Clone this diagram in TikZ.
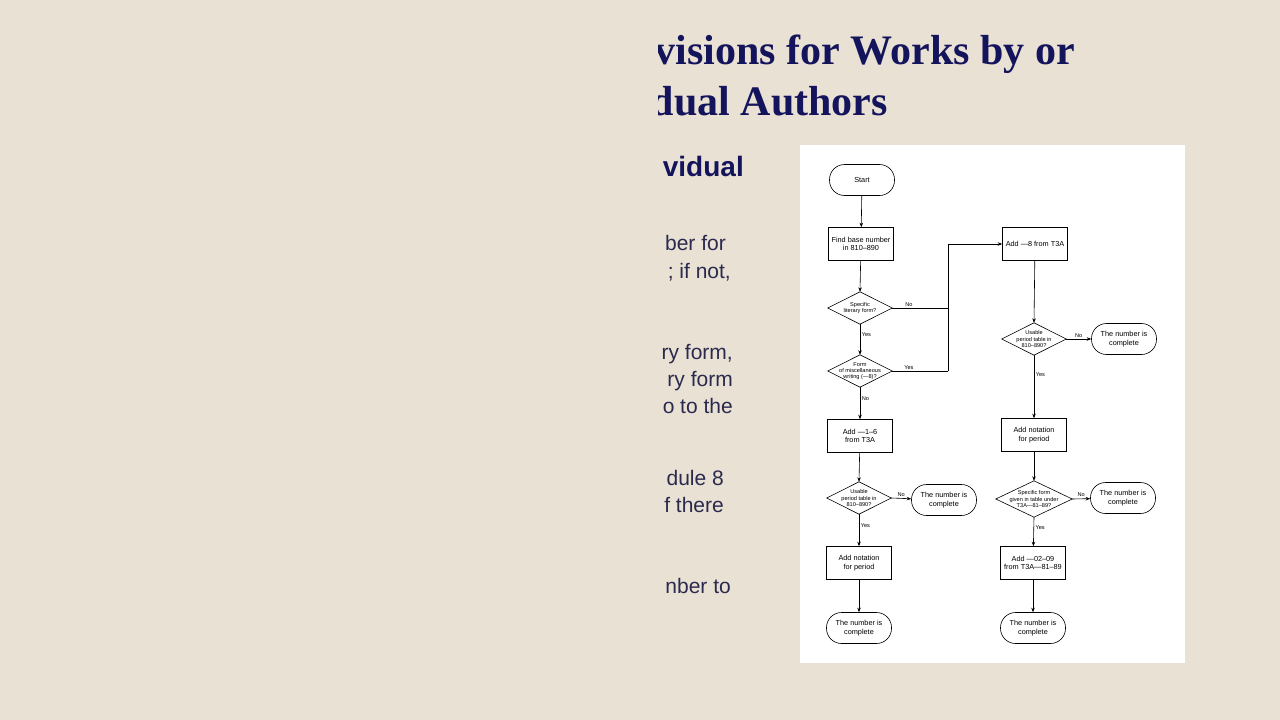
\documentclass[tikz,border=0pt]{standalone}
\usepackage{fontspec}
\setmainfont{Liberation Serif}
\setsansfont{Liberation Sans}
\usetikzlibrary{arrows.meta}
\definecolor{bg}{HTML}{E9E1D3}
\definecolor{navy}{HTML}{14145C}
\definecolor{bodyc}{HTML}{2A2A4E}
\tikzset{
  fc/.style={font=\sffamily\fontsize{7.3}{8.4}\selectfont, align=center, inner sep=0pt},
  boxn/.style={fc, draw, line width=0.6pt, minimum width=65pt, minimum height=33pt},
  term/.style={fc, draw, line width=0.6pt, rounded corners=15pt, minimum width=65pt, minimum height=31pt},
  dia/.style={fc, font=\sffamily\fontsize{5.6}{6.3}\selectfont, minimum width=64pt, minimum height=32pt},
  lab/.style={font=\sffamily\fontsize{5.6}{6.5}\selectfont, inner sep=1.5pt},
  ar/.style={line width=0.6pt, -{Stealth[length=4.5pt,width=3.5pt]}},
  ln/.style={line width=0.6pt},
  ttl/.style={font=\bfseries\fontsize{42}{48}\selectfont, text=navy, inner sep=0pt, anchor=base east},
  bdy/.style={font=\sffamily\fontsize{21}{25}\selectfont, text=bodyc, inner sep=0pt, anchor=base east}
}
\begin{document}
\begin{tikzpicture}[x=1pt,y=-1pt]
\fill[bg] (0,0) rectangle (1280,720);
\useasboundingbox (0,0) rectangle (1280,720);
\begin{scope}
\clip (658,0) rectangle (1280,140) -- (658,140) rectangle (800,720);
\node[ttl] (t1) at (1075,64) {ovisions for Works by or};
\node[ttl] (t2) at (888,115) {idual Authors};
\node[font=\sffamily\bfseries\fontsize{28}{30}\selectfont, text=navy, inner sep=0pt, anchor=base east] (t3) at (744,176) {vidual};
\node[bdy] (b1) at (726,250) {ber for};
\node[bdy] (b2) at (731,278) {; if not,};
\node[bdy] (b3) at (733,359) {ry form,};
\node[bdy] (b4) at (733,386) {ry form};
\node[bdy] (b5) at (733,413) {o to the};
\node[bdy] (b6) at (724,485) {dule 8};
\node[bdy] (b7) at (724,512) {f there};
\node[bdy] (b8) at (731,593) {nber to};
\end{scope}
\fill[white] (800,145) rectangle (1185,663);
% left column
\node[term] (st) at (862,180) {Start};
\node[boxn] (fb) at (861,244) {Find base number\\in 810--890};
\node[dia] (d1) at (860,308) {Specific\\literary form?};
\node[dia] (d2) at (860,371) {Form\\of miscellaneous\\writing (---8)?};
\node[boxn] (a16) at (860,436) {Add ---1--6\\from T3A};
\node[dia] (d3) at (859,498) {Usable\\period table in\\810--890?};
\node[term] (c1) at (944,500) {The number is\\complete};
\node[boxn] (np1) at (859,563) {Add notation\\for period};
\node[term] (c2) at (859,628) {The number is\\complete};
% right column
\node[boxn] (a8) at (1035,244) {Add ---8 from T3A};
\node[dia] (d4) at (1034,339) {Usable\\period table in\\810--890?};
\node[term] (c3) at (1124,339) {The number is\\complete};
\node[boxn] (np2) at (1034,435) {Add notation\\for period};
\node[dia, minimum width=76pt, minimum height=36pt] (d5) at (1034,499) {Specific form\\given in table under\\T3A---81--89?};
\node[term] (c4) at (1123,498) {The number is\\complete};
\node[boxn] (a02) at (1033,563) {Add ---02--09\\from T3A---81--89};
\node[term] (c5) at (1033,628) {The number is\\complete};
\foreach \d in {d1,d2,d3,d4,d5}
  \draw[ln] (\d.north)--(\d.east)--(\d.south)--(\d.west)--cycle;
\coordinate (j1) at (948,308);
\coordinate (j2) at (948,371);
\coordinate (j3) at (948,244);
\draw[ar] (st)--(fb);
\draw[ar] (fb)--(d1.north);
\draw[ar] (d1.south)--node[lab,right,pos=0.35]{Yes}(d2.north);
\draw[ar] (d2.south)--node[lab,right,pos=0.35]{No}(a16);
\draw[ar] (a16)--(d3.north);
\draw[ar] (d3.east)--node[lab,above]{No}(c1);
\draw[ar] (d3.south)--node[lab,right,pos=0.35]{Yes}(np1);
\draw[ar] (np1)--(c2);
\draw[ln] (d1.east)--node[lab,above,pos=0.3]{No}(j1);
\draw[ln] (d2.east)--node[lab,above,pos=0.3]{Yes}(j2);
\draw[ar] (j2)--(j3)--(a8);
\draw[ar] (a8)--(d4.north);
\draw[ar] (d4.east)--node[lab,above]{No}(c3);
\draw[ar] (d4.south)--node[lab,right,pos=0.3]{Yes}(np2);
\draw[ar] (np2)--(d5.north);
\draw[ar] (d5.east)--node[lab,above]{No}(c4);
\draw[ar] (d5.south)--node[lab,right,pos=0.35]{Yes}(a02);
\draw[ar] (a02)--(c5);
\end{tikzpicture}
\end{document}
